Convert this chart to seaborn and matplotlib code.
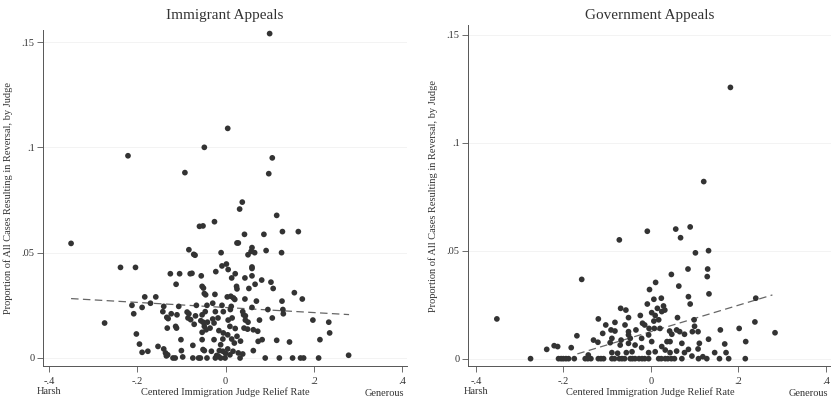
import numpy as np
import pandas as pd
import matplotlib
matplotlib.use("Agg")
import matplotlib.pyplot as plt
import matplotlib.transforms as mtransforms
import seaborn as sns

# ---------------- data ----------------
imm_x = [0.100, 0.005, -0.048, -0.221, 0.106, -0.092, 0.098, 0.038, 0.032, -0.025,
         0.116, -0.059, -0.051, 0.129, 0.165, 0.043, 0.087, -0.350, 0.026, 0.029,
         0.060, -0.083, 0.058, 0.092, 0.066, 0.127, -0.010, -0.072, -0.069, 0.051,
         -0.238, -0.204, -0.008, 0.002, 0.060, 0.060, 0.006, -0.125, -0.104, -0.080,
         -0.076, -0.022, -0.055, 0.022, 0.014, 0.060, 0.044, 0.082, 0.103, -0.112,
         0.067, -0.053, -0.050, 0.053, 0.108, 0.025, 0.026, -0.048, -0.045, -0.024,
         0.156, -0.183, -0.158, 0.004, 0.012, 0.018, 0.021, 0.044, 0.070, 0.128,
         0.174, -0.212, -0.189, -0.170, -0.140, -0.106, -0.066, -0.042, -0.029, -0.008,
         0.013, 0.039, 0.060, 0.096, 0.130, -0.208, -0.142, -0.123, -0.110, -0.087,
         -0.083, -0.068, -0.053, -0.046, -0.023, -0.005, 0.011, 0.041, 0.045, 0.131,
         -0.274, -0.133, -0.130, -0.085, -0.079, -0.056, -0.051, -0.041, -0.029, -0.017,
         0.006, 0.015, 0.045, 0.051, 0.077, 0.106, 0.198, 0.234, -0.202, -0.132,
         -0.113, -0.111, -0.071, -0.048, -0.035, -0.026, -0.015, 0.010, 0.022, 0.042,
         0.050, 0.063, 0.073, 0.236, -0.053, -0.044, -0.005, 0.005, 0.026, -0.101,
         -0.053, -0.026, -0.006, 0.014, 0.034, 0.083, 0.116, 0.145, 0.214, -0.195,
         -0.153, -0.140, -0.074, -0.011, 0.020, 0.074, -0.189, -0.176, -0.136, -0.100,
         -0.051, -0.048, -0.032, -0.014, -0.006, 0.005, 0.017, 0.029, 0.039, 0.063,
         0.279, -0.119, -0.114, -0.097, -0.074, -0.061, -0.057, -0.042, -0.023, -0.016,
         -0.011, -0.001, 0.033, 0.090, 0.122, 0.152, 0.170, 0.177, 0.211, -0.131,
         -0.134, -0.020, 0.000, 0.010]
imm_y = [0.154, 0.109, 0.100, 0.096, 0.095, 0.088, 0.0875, 0.074, 0.0707, 0.0647,
         0.0677, 0.0625, 0.0627, 0.060, 0.060, 0.0587, 0.0587, 0.0544, 0.0546, 0.0546,
         0.0524, 0.0514, 0.0506, 0.051, 0.050, 0.050, 0.050, 0.0492, 0.0488, 0.049,
         0.043, 0.043, 0.0437, 0.0446, 0.0432, 0.0425, 0.042, 0.040, 0.040, 0.040,
         0.0402, 0.041, 0.039, 0.040, 0.038, 0.039, 0.038, 0.037, 0.036, 0.035,
         0.035, 0.0340, 0.0332, 0.033, 0.033, 0.0340, 0.0328, 0.0306, 0.0300, 0.0302,
         0.031, 0.029, 0.029, 0.029, 0.0293, 0.0285, 0.0278, 0.028, 0.027, 0.027,
         0.028, 0.025, 0.024, 0.026, 0.0245, 0.0245, 0.025, 0.025, 0.026, 0.025,
         0.0245, 0.022, 0.024, 0.023, 0.023, 0.021, 0.022, 0.021, 0.0205, 0.0218,
         0.0210, 0.020, 0.0205, 0.022, 0.022, 0.022, 0.023, 0.0205, 0.020, 0.021,
         0.0166, 0.0193, 0.0187, 0.0190, 0.0182, 0.0177, 0.0170, 0.017, 0.0185, 0.019,
         0.018, 0.019, 0.018, 0.017, 0.018, 0.019, 0.018, 0.017, 0.0114, 0.0142,
         0.0150, 0.0142, 0.016, 0.015, 0.0142, 0.0166, 0.013, 0.015, 0.014, 0.0142,
         0.0137, 0.0134, 0.0127, 0.0119, 0.0122, 0.0134, 0.0119, 0.011, 0.0103, 0.0087,
         0.0087, 0.0087, 0.009, 0.009, 0.008, 0.0087, 0.0084, 0.0076, 0.0087, 0.0066,
         0.0055, 0.0043, 0.006, 0.0063, 0.0071, 0.0079, 0.0027, 0.0032, 0.0024, 0.0035,
         0.004, 0.0035, 0.0032, 0.0035, 0.0032, 0.0043, 0.0032, 0.0024, 0.0019, 0.0035,
         0.0013, 0.0, 0.0, 0.0005, 0.0, 0.0, 0.0, 0.0, 0.0, 0.0008,
         0.0, 0.0, 0.0, 0.0, 0.0, 0.0, 0.0, 0.0, 0.0, 0.0015,
         0.0010, 0.0012, 0.0022, 0.0015]

gov_x = [0.182, 0.121, -0.008, 0.057, 0.090, 0.068, -0.072, 0.132, 0.102, 0.047,
         0.085, 0.130, 0.129, -0.158, 0.011, 0.064, -0.003, 0.086, 0.133, 0.240,
         0.007, 0.024, 0.090, -0.008, -0.069, -0.057, 0.029, 0.015, 0.002, 0.025,
         0.032, -0.024, -0.051, 0.061, 0.010, 0.018, -0.352, -0.120, 0.007, 0.099,
         0.238, -0.082, -0.103, -0.059, -0.019, -0.014, -0.004, 0.008, 0.021, 0.100,
         0.202, -0.091, -0.082, -0.051, -0.034, 0.043, 0.059, 0.066, 0.095, 0.108,
         0.159, 0.284, -0.169, -0.110, -0.051, -0.005, 0.048, 0.077, -0.131, -0.121,
         -0.089, -0.068, -0.047, -0.021, 0.002, 0.037, 0.044, 0.132, 0.217, -0.221,
         -0.213, -0.182, -0.238, -0.093, -0.070, -0.051, -0.036, -0.021, 0.025, 0.071,
         0.111, 0.169, 0.086, 0.108, 0.146, 0.172, 0.077, 0.059, 0.044, 0.033,
         0.010, -0.005, -0.043, -0.056, -0.076, -0.089, -0.143, 0.094, 0.119, 0.178,
         -0.275, -0.211, -0.205, -0.200, -0.194, -0.188, -0.175, -0.150, -0.144, -0.137,
         -0.120, -0.114, -0.108, -0.089, -0.083, -0.072, -0.066, -0.060, -0.047, -0.042,
         -0.036, -0.027, -0.020, -0.014, -0.005, 0.018, 0.024, 0.033, 0.039, 0.047,
         0.054, 0.071, 0.109, 0.128, 0.157, 0.216]
gov_y = [0.1256, 0.082, 0.059, 0.060, 0.061, 0.056, 0.055, 0.050, 0.049, 0.039,
         0.0415, 0.0415, 0.038, 0.0367, 0.0353, 0.0336, 0.032, 0.0287, 0.030, 0.028,
         0.0275, 0.028, 0.0253, 0.0253, 0.0233, 0.0225, 0.0244, 0.0233, 0.0213, 0.0218,
         0.0225, 0.020, 0.019, 0.019, 0.020, 0.018, 0.0184, 0.0184, 0.0174, 0.018,
         0.017, 0.0168, 0.0156, 0.0156, 0.0164, 0.0156, 0.014, 0.014, 0.014, 0.015,
         0.014, 0.0133, 0.0128, 0.0125, 0.0133, 0.0128, 0.0133, 0.0125, 0.0125, 0.0125,
         0.0133, 0.012, 0.0106, 0.0117, 0.011, 0.011, 0.0113, 0.0113, 0.0086, 0.0076,
         0.0094, 0.0086, 0.0094, 0.0094, 0.0079, 0.0079, 0.0079, 0.009, 0.0079, 0.006,
         0.0056, 0.0051, 0.0043, 0.0074, 0.0063, 0.0071, 0.0063, 0.0051, 0.0056, 0.0071,
         0.0071, 0.0068, 0.0043, 0.0045, 0.0028, 0.0028, 0.0028, 0.0035, 0.0028, 0.004,
         0.0032, 0.0028, 0.0032, 0.0028, 0.0025, 0.0028, 0.0017, 0.0012, 0.0009, 0.0,
         0.0, 0.0, 0.0, 0.0, 0.0, 0.0, 0.0, 0.0, 0.0, 0.0,
         0.0, 0.0, 0.0, 0.0, 0.0, 0.0, 0.0, 0.0, 0.0, 0.0,
         0.0, 0.0, 0.0, 0.0, 0.0, 0.0, 0.0, 0.0, 0.0, 0.0,
         0.0, 0.0, 0.0, 0.0, 0.0, 0.0]

# fitted (linear) lines, endpoints
imm_fit_x = [-0.350, 0.280]
imm_fit_y = [0.0282, 0.0206]
gov_fit_x = [-0.168, 0.278]
gov_fit_y = [0.0022, 0.0295]

titles = ["Immigrant Appeals", "Government Appeals"]
x_ticks = [-0.4, -0.2, 0.0, 0.2, 0.4]
x_tick_labels = ["-.4", "-.2", "0", ".2", ".4"]
y_ticks = [0.0, 0.05, 0.10, 0.15]
y_tick_labels = ["0", ".05", ".1", ".15"]
x_title = "Centered Immigration Judge Relief Rate"
y_title = "Proportion of All Cases Resulting in Reversal, by Judge"
end_labels = ["Harsh", "Generous"]

# ---------------- figure ----------------
sns.set_style("white")
plt.rcParams["font.family"] = ["Liberation Serif", "DejaVu Serif"]

W, H = 831, 399
fig = plt.figure(figsize=(W / 100, H / 100), dpi=100)

def px_axes(x0, x1, ytop, ybot):
    return fig.add_axes([x0 / W, 1 - ybot / H, (x1 - x0) / W, (ybot - ytop) / H])

ax1 = px_axes(43, 407, 30, 366)
ax2 = px_axes(468, 831, 25, 366)

panels = [
    (ax1, imm_x, imm_y, imm_fit_x, imm_fit_y, (-0.4136, 0.4113), (-0.0038, 0.1557), 225, 16),
    (ax2, gov_x, gov_y, gov_fit_x, gov_fit_y, (-0.418, 0.412), (-0.0034, 0.1545), 650, 15),
]

axis_col = "#555555"
txt_col = "#333333"
for i, (ax, xs, ys, fx, fy, xl, yl, tx, ty) in enumerate(panels):
    df = pd.DataFrame({"x": xs, "y": ys})
    for yt in y_ticks:
        ax.axhline(yt, color="#f1f1f1", lw=0.6, zorder=0)
    sns.scatterplot(data=df, x="x", y="y", ax=ax, color="#333333", s=17,
                    edgecolor="none", linewidth=0, zorder=3)
    sns.lineplot(x=fx, y=fy, ax=ax, color="#666666", lw=0.9,
                 linestyle=(0, (6, 3.5)), zorder=2)
    ax.set_xlim(*xl)
    ax.set_ylim(*yl)
    ax.set_xticks(x_ticks)
    ax.set_xticklabels(x_tick_labels)
    ax.set_yticks(y_ticks)
    ax.set_yticklabels(y_tick_labels)
    ax.tick_params(axis="both", direction="out", length=4, width=0.6,
                   color=axis_col, labelsize=7.5, labelcolor=txt_col,
                   bottom=True, left=True)
    ax.tick_params(axis="x", pad=4)
    ax.tick_params(axis="y", pad=2)
    for s in ["top", "right"]:
        ax.spines[s].set_visible(False)
    for s in ["left", "bottom"]:
        ax.spines[s].set_color(axis_col)
        ax.spines[s].set_linewidth(0.7)
    ax.set_xlabel("")
    ax.set_ylabel(y_title, fontsize=7.5, color=txt_col, labelpad=6)
    fig.text(tx / W, 1 - ty / H, titles[i], ha="center", va="center",
             fontsize=11, color=txt_col)
    trans = mtransforms.blended_transform_factory(ax.transData, fig.transFigure)
    ax.text(0.0, 1 - 392 / H, x_title, transform=trans, ha="center", va="center",
            fontsize=7.5, color=txt_col)
    ax.text(-0.4, 1 - 392 / H, end_labels[0], transform=trans, ha="center",
            va="center", fontsize=7.5, color=txt_col)
    ax.text(0.405, 1 - 393 / H, end_labels[1], transform=trans, ha="right",
            va="center", fontsize=7.5, color=txt_col)
    legend = ax.get_legend()
    if legend is not None:
        legend.remove()

fig.savefig("out.png", dpi=100, facecolor="white")
